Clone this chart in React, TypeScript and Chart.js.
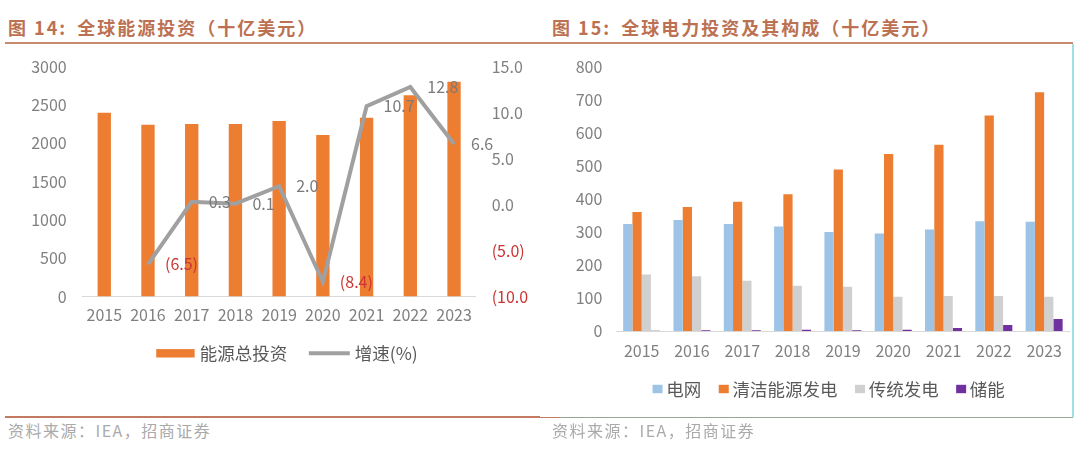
import React, { useEffect, useRef } from "react"
import { Chart, registerables } from "chart.js"

Chart.register(...registerables)

const FONT = "'Noto Sans CJK SC', 'Noto Sans', sans-serif"
Chart.defaults.font.family = FONT

// 图14 data
const years = ["2015", "2016", "2017", "2018", "2019", "2020", "2021", "2022", "2023"]
const totalInvest = [2400, 2243, 2252, 2252, 2292, 2109, 2335, 2627, 2804]
const growth = [null, -6.5, 0.3, 0.1, 2.0, -8.4, 10.7, 12.8, 6.6]

// 图15 data
const grid = [324, 336, 324, 316, 300, 295, 307, 332, 331]
const cleanPower = [360, 375, 391, 414, 489, 536, 564, 652, 723]
const fossilPower = [171, 166, 152, 137, 134, 104, 106, 106, 104]
const storage = [1, 2, 2, 4, 2, 4, 9, 18, 36]

const TICK = "#808080"
const LEGEND = "#595959"
const RED = "#cc3333"

const fmtPct = (v: number) => (v < 0 ? `(${Math.abs(v).toFixed(1)})` : v.toFixed(1))

// fixed axis width, and no extra space reserved for the end labels
const fixWidth = (w: number) => (s: any) => {
  s.width = w
  s.paddingTop = 0
  s.paddingBottom = 0
}

const lineLabels = {
  id: "lineLabels",
  afterDatasetsDraw(chart: any) {
    const ctx = chart.ctx
    chart.data.datasets.forEach((ds: any, i: number) => {
      if (ds.type !== "line") return
      const meta = chart.getDatasetMeta(i)
      meta.data.forEach((pt: any, j: number) => {
        const v = ds.data[j]
        if (v === null || v === undefined) return
        ctx.save()
        ctx.font = `16px ${FONT}`
        ctx.fillStyle = v < 0 ? RED : "#7a7a7a"
        ctx.textAlign = "left"
        ctx.textBaseline = "middle"
        ctx.fillText(fmtPct(v), pt.x + 17, pt.y)
        ctx.restore()
      })
    })
  },
}

// legend drawn on the canvas so swatch sizes and gaps can follow the original
interface LegendCfg {
  centerX: number
  y: number
  rectW: number
  rectH: number
  lineW: number
  textGap: number
  itemGap: number
}

function bottomLegend(cfg: LegendCfg) {
  return {
    id: "bottomLegend",
    afterDraw(chart: any) {
      const ctx = chart.ctx
      ctx.save()
      ctx.font = `17.5px ${FONT}`
      const items = chart.data.datasets.map((ds: any) => {
        const isLine = ds.type === "line"
        const sw = isLine ? cfg.lineW : cfg.rectW
        const tw = ctx.measureText(ds.label).width
        return { ds, isLine, sw, tw, w: sw + cfg.textGap + tw }
      })
      const total = items.reduce((a: number, it: any) => a + it.w, 0) + cfg.itemGap * (items.length - 1)
      let x = cfg.centerX - total / 2
      items.forEach((it: any) => {
        if (it.isLine) {
          ctx.strokeStyle = it.ds.borderColor
          ctx.lineWidth = 4
          ctx.beginPath()
          ctx.moveTo(x, cfg.y)
          ctx.lineTo(x + it.sw, cfg.y)
          ctx.stroke()
        } else {
          ctx.fillStyle = it.ds.backgroundColor
          ctx.fillRect(x, cfg.y - cfg.rectH / 2, it.sw, cfg.rectH)
        }
        ctx.fillStyle = LEGEND
        ctx.textAlign = "left"
        ctx.textBaseline = "middle"
        ctx.fillText(it.ds.label, x + it.sw + cfg.textGap, cfg.y)
        x += it.w + cfg.itemGap
      })
      ctx.restore()
    },
  }
}

function EnergyChart() {
  const ref = useRef<HTMLCanvasElement>(null)
  useEffect(() => {
    let chart: Chart | null = null
    if (ref.current) {
      chart = new Chart(ref.current, {
        type: "bar",
        data: {
          labels: years,
          datasets: [
            {
              type: "bar",
              label: "能源总投资",
              data: totalInvest,
              backgroundColor: "#ed7d31",
              barPercentage: 0.305,
              categoryPercentage: 1,
              yAxisID: "y",
              order: 1,
            },
            {
              type: "line",
              label: "增速(%)",
              data: growth,
              borderColor: "#a0a0a0",
              backgroundColor: "#a0a0a0",
              borderWidth: 4,
              pointRadius: 0,
              tension: 0,
              yAxisID: "y1",
              order: 0,
            },
          ] as any,
        },
        options: {
          animation: false,
          responsive: false,
          layout: { padding: { top: 20.7, left: 0, right: 0, bottom: 49.5 } },
          scales: {
            x: {
              grid: { display: false, drawTicks: false, tickLength: 0 },
              border: { display: true, color: "#d9d9d9", width: 1 },
              ticks: { color: TICK, font: { size: 16 }, padding: 9, maxRotation: 0 },
              afterFit: (s: any) => {
                s.height = 30
              },
            },
            y: {
              position: "left",
              min: 0,
              max: 3000,
              grid: { display: false, drawTicks: false, tickLength: 0 },
              border: { display: false },
              ticks: {
                stepSize: 500,
                color: TICK,
                font: { size: 16 },
                padding: 15.7,
                callback: (v: any) => String(v),
              },
              afterFit: fixWidth(82.4),
            },
            y1: {
              position: "right",
              min: -10,
              max: 15,
              grid: { display: false, drawTicks: false, tickLength: 0 },
              border: { display: false },
              ticks: {
                stepSize: 5,
                font: { size: 16 },
                padding: 15.8,
                color: (c: any) => (c.tick && c.tick.value < 0 ? RED : TICK),
                callback: (v: any) => fmtPct(Number(v)),
              },
              afterFit: fixWidth(64.1),
            },
          },
          plugins: {
            tooltip: { enabled: false },
            legend: { display: false },
          },
        } as any,
        plugins: [
          lineLabels,
          bottomLegend({ centerX: 287, y: 307.3, rectW: 38.4, rectH: 8.4, lineW: 41, textGap: 5, itemGap: 21.7 }),
        ],
      })
    }
    return () => {
      chart?.destroy()
    }
  }, [])
  return <canvas ref={ref} width={540} height={330} style={{ width: 540, height: 330 }} />
}

function PowerChart() {
  const ref = useRef<HTMLCanvasElement>(null)
  useEffect(() => {
    let chart: Chart | null = null
    if (ref.current) {
      const common = { barPercentage: 1, categoryPercentage: 0.735, borderWidth: 0 }
      chart = new Chart(ref.current, {
        type: "bar",
        data: {
          labels: years,
          datasets: [
            { label: "电网", data: grid, backgroundColor: "#9dc3e6", ...common },
            { label: "清洁能源发电", data: cleanPower, backgroundColor: "#ed7d31", ...common },
            { label: "传统发电", data: fossilPower, backgroundColor: "#d0d0d0", ...common },
            { label: "储能", data: storage, backgroundColor: "#7030a0", ...common },
          ],
        },
        options: {
          animation: false,
          responsive: false,
          layout: { padding: { top: 20.7, left: 0, right: 3.7, bottom: 61 } },
          scales: {
            x: {
              grid: { display: false, drawTicks: false, tickLength: 0 },
              border: { display: true, color: "#d9d9d9", width: 1 },
              ticks: { color: TICK, font: { size: 16 }, padding: 10.5, maxRotation: 0 },
              afterFit: (s: any) => {
                s.height = 30
              },
            },
            y: {
              min: 0,
              max: 800,
              grid: { display: false, drawTicks: false, tickLength: 0 },
              border: { display: false },
              ticks: {
                stepSize: 100,
                color: TICK,
                font: { size: 16 },
                padding: 14.2,
                callback: (v: any) => String(v),
              },
              afterFit: fixWidth(76.5),
            },
          },
          plugins: {
            tooltip: { enabled: false },
            legend: { display: false },
          },
        } as any,
        plugins: [
          bottomLegend({ centerX: 288.7, y: 343, rectW: 10, rectH: 8.4, lineW: 10, textGap: 3.7, itemGap: 17.5 }),
        ],
      })
    }
    return () => {
      chart?.destroy()
    }
  }, [])
  return <canvas ref={ref} width={533} height={376} style={{ width: 533, height: 376 }} />
}

const titleStyle: React.CSSProperties = {
  position: "absolute",
  top: 14,
  fontFamily: FONT,
  fontWeight: 700,
  fontSize: 18,
  letterSpacing: 2,
  color: "#bb7152",
  whiteSpace: "nowrap",
  lineHeight: "26px",
}

const footStyle: React.CSSProperties = {
  position: "absolute",
  top: 419,
  fontFamily: FONT,
  fontSize: 16,
  letterSpacing: 1.5,
  color: "#aaaaaa",
  whiteSpace: "nowrap",
  lineHeight: "22px",
}

export default function App() {
  return (
    <div
      style={{
        position: "absolute",
        left: 0,
        top: 0,
        width: 1080,
        height: 449,
        background: "#ffffff",
        overflow: "hidden",
      }}
    >
      <div style={{ ...titleStyle, left: 8 }}>
        图 14:<span style={{ marginLeft: 10 }}>全球能源投资（十亿美元）</span>
      </div>
      <div style={{ ...titleStyle, left: 552 }}>
        图 15:<span style={{ marginLeft: 10 }}>全球电力投资及其构成（十亿美元）</span>
      </div>
      <div style={{ position: "absolute", left: 5, top: 42, width: 1068, height: 2, background: "#c98a72" }} />
      <div style={{ position: "absolute", left: 1072, top: 44, width: 1.5, height: 373, background: "#9fdfe6" }} />

      <div style={{ position: "absolute", left: 0, top: 46, width: 529, height: 330, overflow: "hidden" }}>
        <EnergyChart />
      </div>
      <div style={{ position: "absolute", left: 540, top: 46, width: 533, height: 376 }}>
        <PowerChart />
      </div>

      <div style={{ position: "absolute", left: 5, top: 416, width: 535, height: 1.5, background: "#c27a62" }} />
      <div style={{ position: "absolute", left: 540, top: 416.5, width: 20, height: 1.5, background: "#c27a62" }} />
      <div style={{ position: "absolute", left: 560, top: 416.5, width: 513, height: 1.5, background: "#9aa596" }} />

      <div style={{ ...footStyle, left: 8 }}>资料来源：IEA，招商证券</div>
      <div style={{ ...footStyle, left: 552 }}>资料来源：IEA，招商证券</div>
    </div>
  )
}
